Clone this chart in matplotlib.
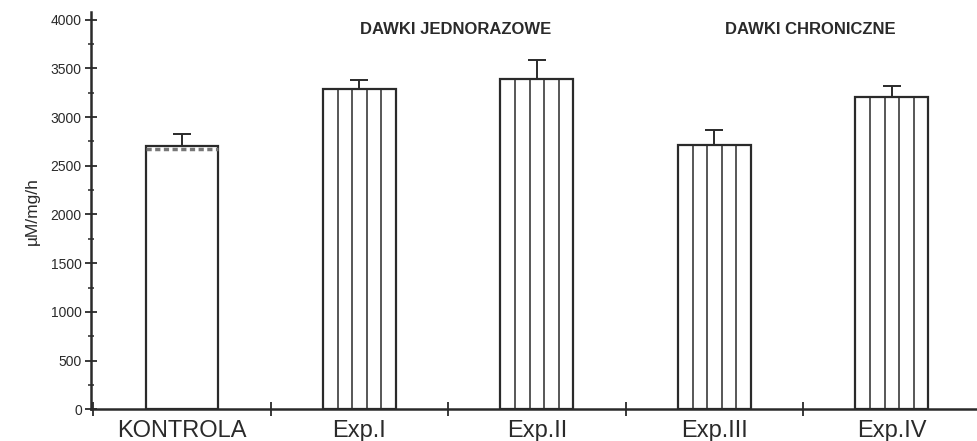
import matplotlib
matplotlib.use("Agg")
import matplotlib.pyplot as plt
from matplotlib.ticker import MultipleLocator

groups = ["KONTROLA", "Exp.I", "Exp.II", "Exp.III", "Exp.IV"]
means = [2700, 3290, 3390, 2710, 3210]
errors = [130, 95, 200, 160, 110]
hatched = [False, True, True, True, True]
headers = ["DAWKI JEDNORAZOWE", "DAWKI CHRONICZNE"]
header_pos = [1.545, 3.54]

plt.rcParams["font.family"] = ["Liberation Sans", "DejaVu Sans"]

fig = plt.figure(figsize=(9.77, 4.41), dpi=100)
ax = fig.add_axes([0.093, 0.072, 0.907, 0.901])

x = list(range(len(groups)))
width = 0.41
ink = "#2a2a2a"

ax.bar(x, means, width=width, facecolor="white", edgecolor=ink, linewidth=1.6, zorder=2)
ax.errorbar(x, means, yerr=[[0] * len(means), errors], fmt="none", ecolor=ink,
            elinewidth=1.4, capsize=6.5, capthick=1.4, zorder=1)

# vertical stripes inside experimental bars (5 strips each)
for xi, m, h in zip(x, means, hatched):
    if h:
        for k in range(1, 5):
            xs = xi - width / 2 + k * width / 5
            ax.vlines(xs, 0, m, color=ink, linewidth=1.1, zorder=3)
    else:
        ax.hlines(m - 30, xi - width / 2, xi + width / 2, color="#777777",
                  linewidth=2.5, linestyle=(0, (1.5, 1)), zorder=3)

for label, xp in zip(headers, header_pos):
    ax.text(xp, 3900, label, ha="center", va="center", fontsize=12,
            fontweight="heavy", color=ink)

ax.set_xlim(-0.513, 4.48)
ax.set_ylim(0, 4080)
ax.set_xticks(x)
ax.set_xticklabels(groups, fontsize=17, color=ink)
ax.xaxis.set_minor_locator(MultipleLocator(1, offset=0.5))
ax.tick_params(axis="x", which="major", length=0, pad=8)
ax.tick_params(axis="x", which="minor", direction="inout", length=10, width=1.3, color=ink)

ax.yaxis.set_major_locator(MultipleLocator(500))
ax.yaxis.set_minor_locator(MultipleLocator(250))
ax.tick_params(axis="y", which="major", direction="inout", length=9, width=1.3,
               labelsize=10, color=ink, labelcolor=ink, pad=2)
ax.tick_params(axis="y", which="minor", direction="inout", length=5, width=1.1, color=ink)
ax.set_ylabel("µM/mg/h", fontsize=12.5, color=ink, labelpad=8)

for s in ["top", "right"]:
    ax.spines[s].set_visible(False)
for s in ["left", "bottom"]:
    ax.spines[s].set_linewidth(1.8)
    ax.spines[s].set_color(ink)

fig.savefig("out.png", dpi=100)
